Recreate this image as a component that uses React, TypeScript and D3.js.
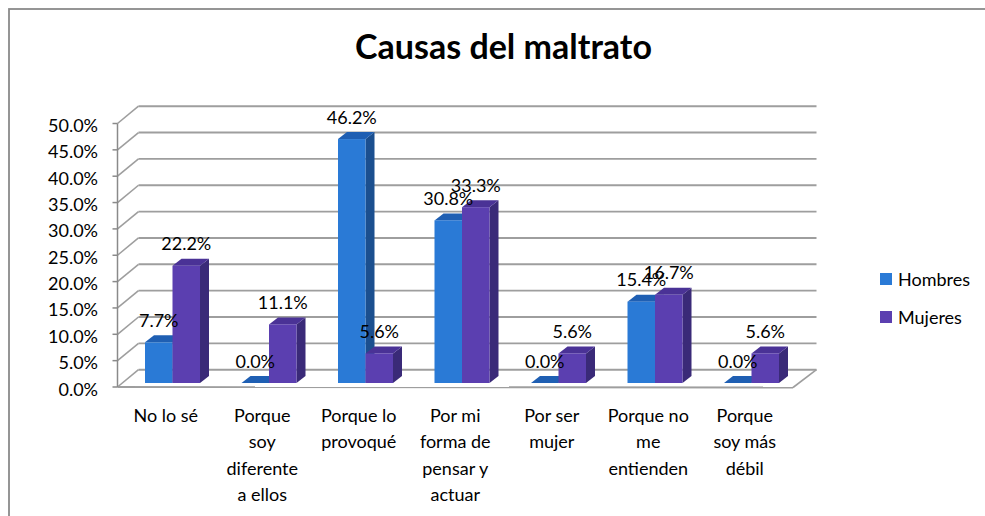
import React from "react";
import * as d3 from "d3";

const title = "Causas del maltrato";
const categories = [
  "No lo sé",
  "Porque\nsoy\ndiferente\na ellos",
  "Porque lo\nprovoqué",
  "Por mi\nforma de\npensar y\nactuar",
  "Por ser\nmujer",
  "Porque no\nme\nentienden",
  "Porque\nsoy más\ndébil",
];
const seriesNames = ["Hombres", "Mujeres"];
const hombres = [7.7, 0.0, 46.2, 30.8, 0.0, 15.4, 0.0];
const mujeres = [22.2, 11.1, 5.6, 33.3, 5.6, 16.7, 5.6];
const yTicks = [0, 5, 10, 15, 20, 25, 30, 35, 40, 45, 50];

const colors = {
  Hombres: { front: "#2a7ad6", top: "#1f5fb3", side: "#1b4f8f" },
  Mujeres: { front: "#5b3fb0", top: "#4a3296", side: "#3a2a78" },
};

const FONT = "Lato, 'Open Sans', sans-serif";

export default function App() {
  const W = 985;
  const H = 516;
  const x0 = 117.5;
  const x1 = 793;
  const depthDx = 21;
  const depthDy = -17.3;
  const yFront = d3.scaleLinear().domain([0, 50]).range([387, 123.5]);
  const barBase = 383;
  const yBar = d3.scaleLinear().domain([0, 50]).range([barBase, barBase - 264]);
  const xBand = d3.scaleBand<string>().domain(categories).range([x0, x1]);
  const bw = xBand.bandwidth();
  const barW = 27.5;
  const groupOffset = 27.5;
  const bdx = 9;
  const bdy = -7;
  const fmt = (v: number) => v.toFixed(1) + "%";

  const gridColor = "#9e9e9e";

  const bars: React.ReactNode[] = [];
  const labels: React.ReactNode[] = [];
  categories.forEach((c, i) => {
    const gx = (xBand(c) as number) + groupOffset;
    [hombres[i], mujeres[i]].forEach((v, s) => {
      const name = seriesNames[s] as "Hombres" | "Mujeres";
      const col = colors[name];
      const left = gx + s * barW;
      const right = left + barW;
      const top = yBar(v);
      const h = barBase - top;
      bars.push(
        <g key={`b${i}-${s}`}>
          {h > 0 && (
            <polygon
              points={`${right},${top} ${right + bdx},${top + bdy} ${right + bdx},${barBase + bdy} ${right},${barBase}`}
              fill={col.side}
            />
          )}
          <polygon
            points={`${left},${top} ${left + bdx},${top + bdy} ${right + bdx},${top + bdy} ${right},${top}`}
            fill={col.top}
          />
          {h > 0 && <rect x={left} y={top} width={barW} height={h} fill={col.front} />}
        </g>
      );
      labels.push(
        <text
          key={`l${i}-${s}`}
          x={left + barW / 2}
          y={top - 15.5}
          textAnchor="middle"
          fontSize={18}
          fontFamily={FONT}
          fill="#000"
        >
          {fmt(v)}
        </text>
      );
    });
  });

  return (
    <svg
      width={W}
      height={H}
      style={{ position: "absolute", left: 0, top: 0, background: "#fff" }}
    >
      <rect x={0} y={0} width={W} height={H} fill="#fff" />
      <rect x={9} y={9} width={1400} height={900} fill="none" stroke="#8a8a8a" strokeWidth={1.8} />
      <text
        x={503.5}
        y={59}
        textAnchor="middle"
        fontSize={34}
        fontWeight="bold"
        fontFamily={FONT}
        fill="#000"
      >
        {title}
      </text>

      {yTicks.map((t) => {
        const yf = yFront(t);
        const yb = yf + depthDy;
        return (
          <g key={`g${t}`}>
            <line x1={x0} y1={yf} x2={x0 + depthDx} y2={yb} stroke={gridColor} strokeWidth={1.6} />
            <line x1={x0 + depthDx} y1={yb} x2={x1 + 23.5} y2={yb} stroke={gridColor} strokeWidth={1.9} />
          </g>
        );
      })}
      <line x1={x0} y1={yFront(0)} x2={x1} y2={yFront(0) + 0.5} stroke={gridColor} strokeWidth={1.9} />
      <line x1={x1} y1={yFront(0) + 0.5} x2={x1 + 23.5} y2={yFront(0) + depthDy} stroke={gridColor} strokeWidth={1.6} />

      <line x1={x0} y1={yFront(50)} x2={x0} y2={yFront(0)} stroke="#8a8a8a" strokeWidth={1.5} />
      {yTicks.map((t) => (
        <g key={`t${t}`}>
          <line x1={x0 - 5} y1={yFront(t)} x2={x0} y2={yFront(t)} stroke="#8a8a8a" strokeWidth={1.5} />
          <text
            x={98}
            y={yFront(t) + 8.5}
            textAnchor="end"
            fontSize={18}
            fontFamily={FONT}
            fill="#000"
          >
            {fmt(t)}
          </text>
        </g>
      ))}

      {bars}
      {labels}

      {categories.map((c) => {
        const cx = (xBand(c) as number) + bw / 2;
        return (
          <text key={`c${c}`} textAnchor="middle" fontSize={18} fontFamily={FONT} fill="#000">
            {c.split("\n").map((line, k) => (
              <tspan key={k} x={cx} y={421.7 + k * 26.4}>
                {line}
              </tspan>
            ))}
          </text>
        );
      })}

      {seriesNames.map((n, k) => {
        const col = colors[n as "Hombres" | "Mujeres"];
        const cy = 279 + k * 38;
        return (
          <g key={`lg${n}`}>
            <rect x={880} y={cy - 6} width={12} height={12} fill={col.front} />
            <text x={898} y={cy + 6.5} fontSize={18} fontFamily={FONT} fill="#000">
              {n}
            </text>
          </g>
        );
      })}
    </svg>
  );
}
